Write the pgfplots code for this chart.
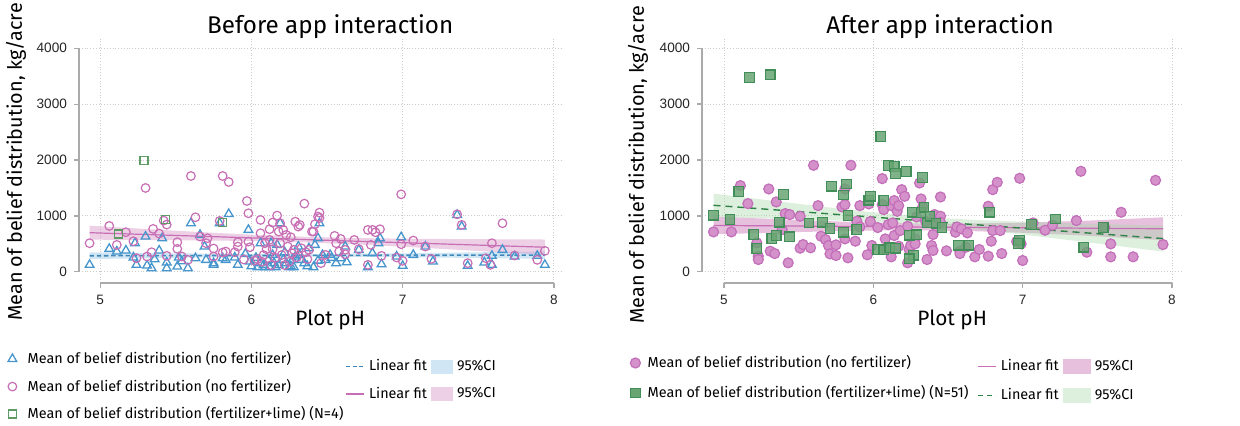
\documentclass[border=0pt]{standalone}
\usepackage{pgfplots}
\pgfplotsset{compat=1.18}
\usepackage{pgfplotstable}
\usepackage{fontspec}
\setmainfont{Fira Sans}
\newfontfamily\arial{Liberation Sans}
\definecolor{cblue}{RGB}{70,150,205}
\definecolor{cpink}{RGB}{200,110,180}
\definecolor{cgreen}{RGB}{95,155,100}
\definecolor{bandblue}{RGB}{150,200,230}
\definecolor{bandpink}{RGB}{215,150,200}
\definecolor{bandgreen}{RGB}{170,215,170}
\definecolor{dgreen}{RGB}{45,130,70}
\definecolor{sqfill}{RGB}{105,165,115}
\definecolor{cifill}{RGB}{212,145,202}
\definecolor{ciedge}{RGB}{195,110,185}
\definecolor{axgray}{RGB}{170,170,170}

\pgfplotsset{
 geomL/.style={scale only axis, height=123pt, ymin=-200, ymax=4200, at={(39.5pt,71pt)}, anchor=south west, width=242pt, xmin=4.86, xmax=8.06},
 geomR/.style={scale only axis, height=123pt, ymin=-200, ymax=4200, at={(351pt,71pt)}, anchor=south west, width=240.5pt, xmin=4.853, xmax=8.074},
 mystyle/.style={
  axis lines*=left, axis line style={draw=none},
  xtick={5,6,7,8}, ytick={0,1000,2000,3000,4000},
  grid=major, grid style={densely dotted, gray!40, line width=0.45pt},
  tick align=outside, major tick length=2.5pt,
  tick style={axgray, line width=0.6pt},
  /pgf/number format/assume math mode=true,
  /pgf/number format/1000 sep={},
  tick label style={font=\arial\fontsize{6.8}{8}\selectfont, text=black!85},
  clip=false,
  title style={font=\fontsize{12.1}{14}\selectfont},
  xlabel style={font=\fontsize{10.4}{12}\selectfont, anchor=center},
  ylabel style={font=\fontsize{9.9}{12}\selectfont, anchor=center},
 },
 lgbase/.style={legend cell align=left, legend style={draw=none, fill=none, inner sep=0pt, anchor=north west,
    font=\fontsize{7.2}{8.6}\selectfont,
    /tikz/column sep=0pt, /tikz/every odd column/.style={column sep=0pt}, /tikz/every even column/.style={column sep=0pt}}},
 hid/.style={hide axis, ymin=0, ymax=1, xmin=0, xmax=1, clip=false},
 lgmarkL/.style={legend image code/.code={\path[draw=none, fill=none] (0pt,0pt) -- (8.6pt,0pt); \draw[##1] plot coordinates {(3pt,0pt)};}},
 lgmarkR/.style={legend image code/.code={\path[draw=none, fill=none] (0pt,0pt) -- (7.1pt,0pt); \draw[##1] plot coordinates {(3pt,0pt)};}},
 lgline/.style={legend image code/.code={\draw[##1] (0pt,0pt) -- (9pt,0pt);}},
 lgareaL/.style={legend image code/.code={\fill[##1, draw=none] (0pt,-3.5pt) rectangle (11pt,3.5pt);}},
 lgareaR/.style={legend image code/.code={\fill[##1, draw=none] (0pt,-3.75pt) rectangle (14pt,3.75pt);}},
}

\pgfplotstableread{
x y
4.93 512
5.06 821
5.11 482
5.17 708
5.22 547
5.24 244
5.30 1500
5.31 274
5.35 768
5.34 351
5.39 684
5.42 916
5.44 845
5.44 286
5.51 530
5.51 411
5.54 274
5.58 214
5.60 1714
5.63 976
5.66 631
5.71 601
5.70 512
5.75 417
5.75 274
5.79 910
5.81 1714
5.85 1607
5.81 345
5.83 363
5.89 351
5.91 530
5.91 452
5.95 220
5.97 1267
5.98 1047
5.98 541
5.99 440
6.02 200
6.04 226
6.06 928
6.06 690
6.07 180
6.08 300
6.09 512
6.10 405
6.12 571
6.12 762
6.13 120
6.14 881
6.14 405
6.16 250
6.17 1006
6.18 720
6.19 512
6.19 869
6.20 300
6.21 750
6.22 120
6.23 660
6.24 452
6.25 180
6.26 619
6.27 330
6.28 393
6.29 898
6.30 260
6.31 809
6.32 839
6.33 422
6.35 1220
6.36 350
6.37 226
6.38 393
6.40 720
6.41 720
6.42 851
6.44 988
6.45 1059
6.45 964
6.46 155
6.49 303
6.55 643
6.56 512
6.59 589
6.58 363
6.62 393
6.62 315
6.68 571
6.71 405
6.77 750
6.80 750
6.79 482
6.82 708
6.85 762
6.86 286
6.77 125
6.96 256
6.99 1386
6.99 494
7.00 196
7.07 559
7.15 452
7.19 232
7.36 1029
7.39 839
7.43 155
7.55 244
7.59 512
7.58 125
7.66 869
7.74 292
7.89 214
7.94 375
}\leftcirc

\pgfplotstableread{
x y
4.93 125
5.06 411
5.11 363
5.17 381
5.23 512
5.22 256
5.24 125
5.30 631
5.31 113
5.34 65
5.36 226
5.39 381
5.41 601
5.44 167
5.44 65
5.51 95
5.52 256
5.54 190
5.58 65
5.60 869
5.63 244
5.66 660
5.69 452
5.70 214
5.75 155
5.75 125
5.79 869
5.81 244
5.83 214
5.85 1035
5.89 256
5.91 125
5.96 321
5.98 750
5.99 184
6.00 100
6.03 250
6.04 83
6.06 512
6.06 155
6.08 120
6.09 83
6.11 214
6.12 83
6.13 512
6.14 300
6.15 155
6.16 83
6.17 482
6.18 120
6.19 869
6.21 214
6.22 350
6.23 155
6.25 83
6.26 100
6.27 214
6.28 83
6.29 274
6.31 452
6.32 300
6.33 214
6.35 155
6.37 100
6.38 422
6.41 83
6.42 482
6.44 601
6.44 200
6.45 869
6.47 300
6.49 214
6.52 303
6.53 250
6.56 155
6.59 244
6.62 452
6.63 172
6.71 393
6.77 83
6.80 333
6.84 512
6.85 601
6.86 137
6.96 274
6.99 619
7.00 107
7.07 303
7.15 452
7.20 184
7.36 1017
7.39 809
7.43 107
7.54 167
7.59 125
7.59 286
7.66 393
7.74 274
7.89 286
7.94 125
}\lefttri

\pgfplotstableread{
x y
5.29 1990
5.12 678
5.43 940
5.81 881
}\leftsq

\pgfplotstableread{
x y
4.93 1012
5.04 934
5.10 1440
5.17 3476
5.31 3524
5.20 667
5.22 417
5.32 595
5.35 649
5.37 887
5.40 1381
5.44 625
5.57 875
5.66 887
5.71 774
5.72 1530
5.80 708
5.80 1375
5.82 1571
5.83 1006
5.89 756
5.97 1280
5.98 1351
6.03 399
6.05 2422
6.07 1274
6.07 393
6.10 1899
6.11 429
6.14 1887
6.15 1756
6.15 423
6.22 1792
6.24 655
6.27 298
6.26 1065
6.24 232
6.29 661
6.32 1059
6.33 1690
6.34 1155
6.36 875
6.38 994
6.42 869
6.46 792
6.57 476
6.64 476
6.78 1065
6.98 565
6.97 506
7.06 845
7.22 946
7.41 440
7.54 792
}\rightsq

\pgfplotstableread{
x y
4.93 714
5.05 714
5.11 1542
5.16 1220
5.22 518
5.23 280
5.23 220
5.30 1482
5.31 369
5.34 327
5.35 1250
5.39 756
5.41 1042
5.43 161
5.44 1024
5.51 994
5.51 423
5.53 488
5.58 429
5.60 1905
5.63 1184
5.65 637
5.68 577
5.70 470
5.71 321
5.75 292
5.75 482
5.79 1161
5.81 1202
5.81 1482
5.81 589
5.83 250
5.85 1905
5.88 548
5.89 905
5.91 1184
5.91 803
5.96 304
5.98 899
5.97 1214
5.99 470
6.03 792
6.06 1667
6.06 1202
6.08 589
6.07 1113
6.09 399
6.10 845
6.12 1184
6.12 268
6.13 875
6.14 1274
6.14 649
6.16 1083
6.17 1184
6.17 458
6.18 738
6.19 1470
6.21 1351
6.23 815
6.23 161
6.24 399
6.25 470
6.28 589
6.28 500
6.29 982
6.31 1589
6.32 1304
6.33 1155
6.35 905
6.36 220
6.39 470
6.40 381
6.40 667
6.41 1024
6.42 857
6.45 1339
6.45 994
6.45 887
6.49 375
6.55 708
6.56 803
6.59 768
6.58 369
6.58 327
6.62 440
6.63 696
6.68 268
6.71 399
6.77 1173
6.77 280
6.79 548
6.80 1470
6.80 738
6.83 1601
6.85 738
6.86 327
6.96 542
6.98 1673
6.99 500
7.00 202
7.07 875
7.15 744
7.20 833
7.36 917
7.39 1798
7.43 351
7.55 792
7.59 500
7.59 268
7.66 1065
7.74 268
7.89 1637
7.94 488
}\rightcirc

\begin{document}
\begin{tikzpicture}
\path[use as bounding box] (0pt,0pt) rectangle (620pt,212.5pt);
% ---------------- LEFT ----------------
\begin{axis}[geomL, mystyle, lgbase,
  title={Before app interaction}, title style={at={(axis description cs:0.519,0.9675)}, anchor=base},
  xlabel={Plot pH}, xlabel style={at={(axis description cs:0.519,-0.148)}},
  ylabel={Mean of belief distribution, kg/acre}, ylabel style={at={(axis description cs:-0.130,0.492)}},
  legend style={at={(axis description cs:-0.1508,-0.2602)}, row sep=2.2pt},
]
\addplot[forget plot, draw=none, fill=bandblue, fill opacity=0.45] coordinates {
(4.93,348) (5.7,325) (6.35,316) (7.0,330) (7.94,366)
(7.94,234) (7.0,262) (6.35,272) (5.7,257) (4.93,228)} -- cycle;
\addplot[forget plot, draw=none, fill=bandpink, fill opacity=0.45] coordinates {
(4.93,825) (5.3,766) (5.7,705) (6.0,665) (6.35,627) (6.7,604) (7.0,593) (7.4,585) (7.94,578)
(7.94,302) (7.4,389) (7.0,449) (6.7,490) (6.35,527) (6.0,551) (5.7,561) (5.3,570) (4.93,575)} -- cycle;
\addplot[forget plot, only marks, mark=triangle, mark size=2.5pt, cblue, mark options={line width=0.65pt}] table {\lefttri};
\addplot[forget plot, only marks, mark=o, mark size=2.15pt, cpink, mark options={line width=0.6pt}] table {\leftcirc};
\addplot[forget plot, only marks, mark=square, mark size=2.0pt, cgreen, mark options={line width=0.65pt}] table {\leftsq};
\addplot[forget plot, cblue!90!black, line width=0.8pt, dash pattern=on 2.2pt off 1.4pt] coordinates {(4.93,288) (7.94,300)};
\addplot[forget plot, cpink, line width=0.6pt] coordinates {(4.93,700) (7.94,440)};
\draw[axgray, line width=0.7pt] (axis cs:4.86,0) -- (axis cs:4.86,4000);
\draw[axgray, line width=0.7pt] (axis cs:5,-200) -- (axis cs:8,-200);
\addlegendimage{lgmarkL, only marks, mark=triangle, mark size=2.5pt, draw=cblue, line width=0.65pt}
\addlegendentry{Mean of belief distribution (no fertilizer)}
\addlegendimage{lgmarkL, only marks, mark=o, mark size=2.15pt, draw=cpink, line width=0.6pt}
\addlegendentry{Mean of belief distribution (no fertilizer)}
\addlegendimage{lgmarkL, only marks, mark=square, mark size=2.0pt, draw=cgreen, line width=0.65pt}
\addlegendentry{Mean of belief distribution (fertilizer+lime) (N=4)}
\end{axis}
\begin{axis}[geomL, hid, lgbase, legend columns=2,
  legend style={at={(axis description cs:0.5496,-0.2927)}, row sep=2.6pt}]
\addlegendimage{lgline, draw=cblue!90!black, line width=0.8pt, dash pattern=on 2pt off 1.2pt}
\addlegendentry{Linear fit}
\addlegendimage{lgareaL, fill=bandblue, fill opacity=0.45}
\addlegendentry{95\%CI}
\addlegendimage{lgline, draw=cpink, line width=0.7pt}
\addlegendentry{Linear fit}
\addlegendimage{lgareaL, fill=bandpink, fill opacity=0.45}
\addlegendentry{95\%CI}
\end{axis}
% ---------------- RIGHT ----------------
\begin{axis}[geomR, mystyle, lgbase,
  title={After app interaction}, title style={at={(axis description cs:0.495,0.9675)}, anchor=base},
  xlabel={Plot pH}, xlabel style={at={(axis description cs:0.52,-0.148)}},
  ylabel={Mean of belief distribution, kg/acre}, ylabel style={at={(axis description cs:-0.133,0.48)}},
  legend style={at={(axis description cs:-0.1518,-0.2764)}, row sep=3.4pt},
]
\addplot[forget plot, only marks, mark=*, mark size=2.5pt, mark options={draw=ciedge, fill=cifill, line width=0.6pt}] table {\rightcirc};
\addplot[forget plot, only marks, mark=square*, mark size=2.4pt, mark options={draw=dgreen!90, fill=sqfill, fill opacity=0.85, line width=0.6pt}] table {\rightsq};
\addplot[forget plot, draw=none, fill=bandpink, fill opacity=0.6] coordinates {
(4.93,990) (5.3,948) (5.7,906) (6.0,879) (6.35,862) (6.7,865) (7.0,880) (7.4,911) (7.94,975)
(7.94,565) (7.4,651) (7.0,698) (6.7,725) (6.35,742) (6.0,739) (5.7,724) (5.3,698) (4.93,670)} -- cycle;
\addplot[forget plot, draw=none, fill=bandgreen, fill opacity=0.4] coordinates {
(4.93,1400) (5.3,1279) (5.7,1153) (6.0,1064) (6.35,979) (6.7,925) (7.0,896) (7.4,864) (7.94,827)
(7.94,363) (7.4,540) (7.0,666) (6.7,755) (6.35,839) (6.0,894) (5.7,923) (5.3,955) (4.93,980)} -- cycle;
\addplot[forget plot, cpink, line width=0.6pt] coordinates {(4.93,830) (7.94,770)};
\addplot[forget plot, dgreen, line width=0.7pt, dash pattern=on 3.5pt off 2.5pt] coordinates {(4.93,1190) (7.94,595)};
\draw[axgray, line width=0.7pt] (axis cs:4.853,0) -- (axis cs:4.853,4000);
\draw[axgray, line width=0.7pt] (axis cs:5,-200) -- (axis cs:8,-200);
\addlegendimage{lgmarkR, only marks, mark=*, mark size=2.5pt, draw=ciedge, fill=cifill, line width=0.6pt}
\addlegendentry{Mean of belief distribution (no fertilizer)}
\addlegendimage{lgmarkR, only marks, mark=square*, mark size=2.4pt, draw=dgreen!90, fill=sqfill, line width=0.6pt}
\addlegendentry{Mean of belief distribution (fertilizer+lime) (N=51)}
\end{axis}
\begin{axis}[geomR, hid, lgbase, legend columns=2,
  legend style={at={(axis description cs:0.5717,-0.2927)}, row sep=3.4pt}]
\addlegendimage{lgline, draw=cpink, line width=0.7pt}
\addlegendentry{Linear fit}
\addlegendimage{lgareaR, fill=bandpink, fill opacity=0.6}
\addlegendentry{95\%CI}
\addlegendimage{lgline, draw=dgreen, line width=0.7pt, dash pattern=on 2.5pt off 2pt}
\addlegendentry{Linear fit}
\addlegendimage{lgareaR, fill=bandgreen, fill opacity=0.4}
\addlegendentry{95\%CI}
\end{axis}
\end{tikzpicture}
\end{document}
